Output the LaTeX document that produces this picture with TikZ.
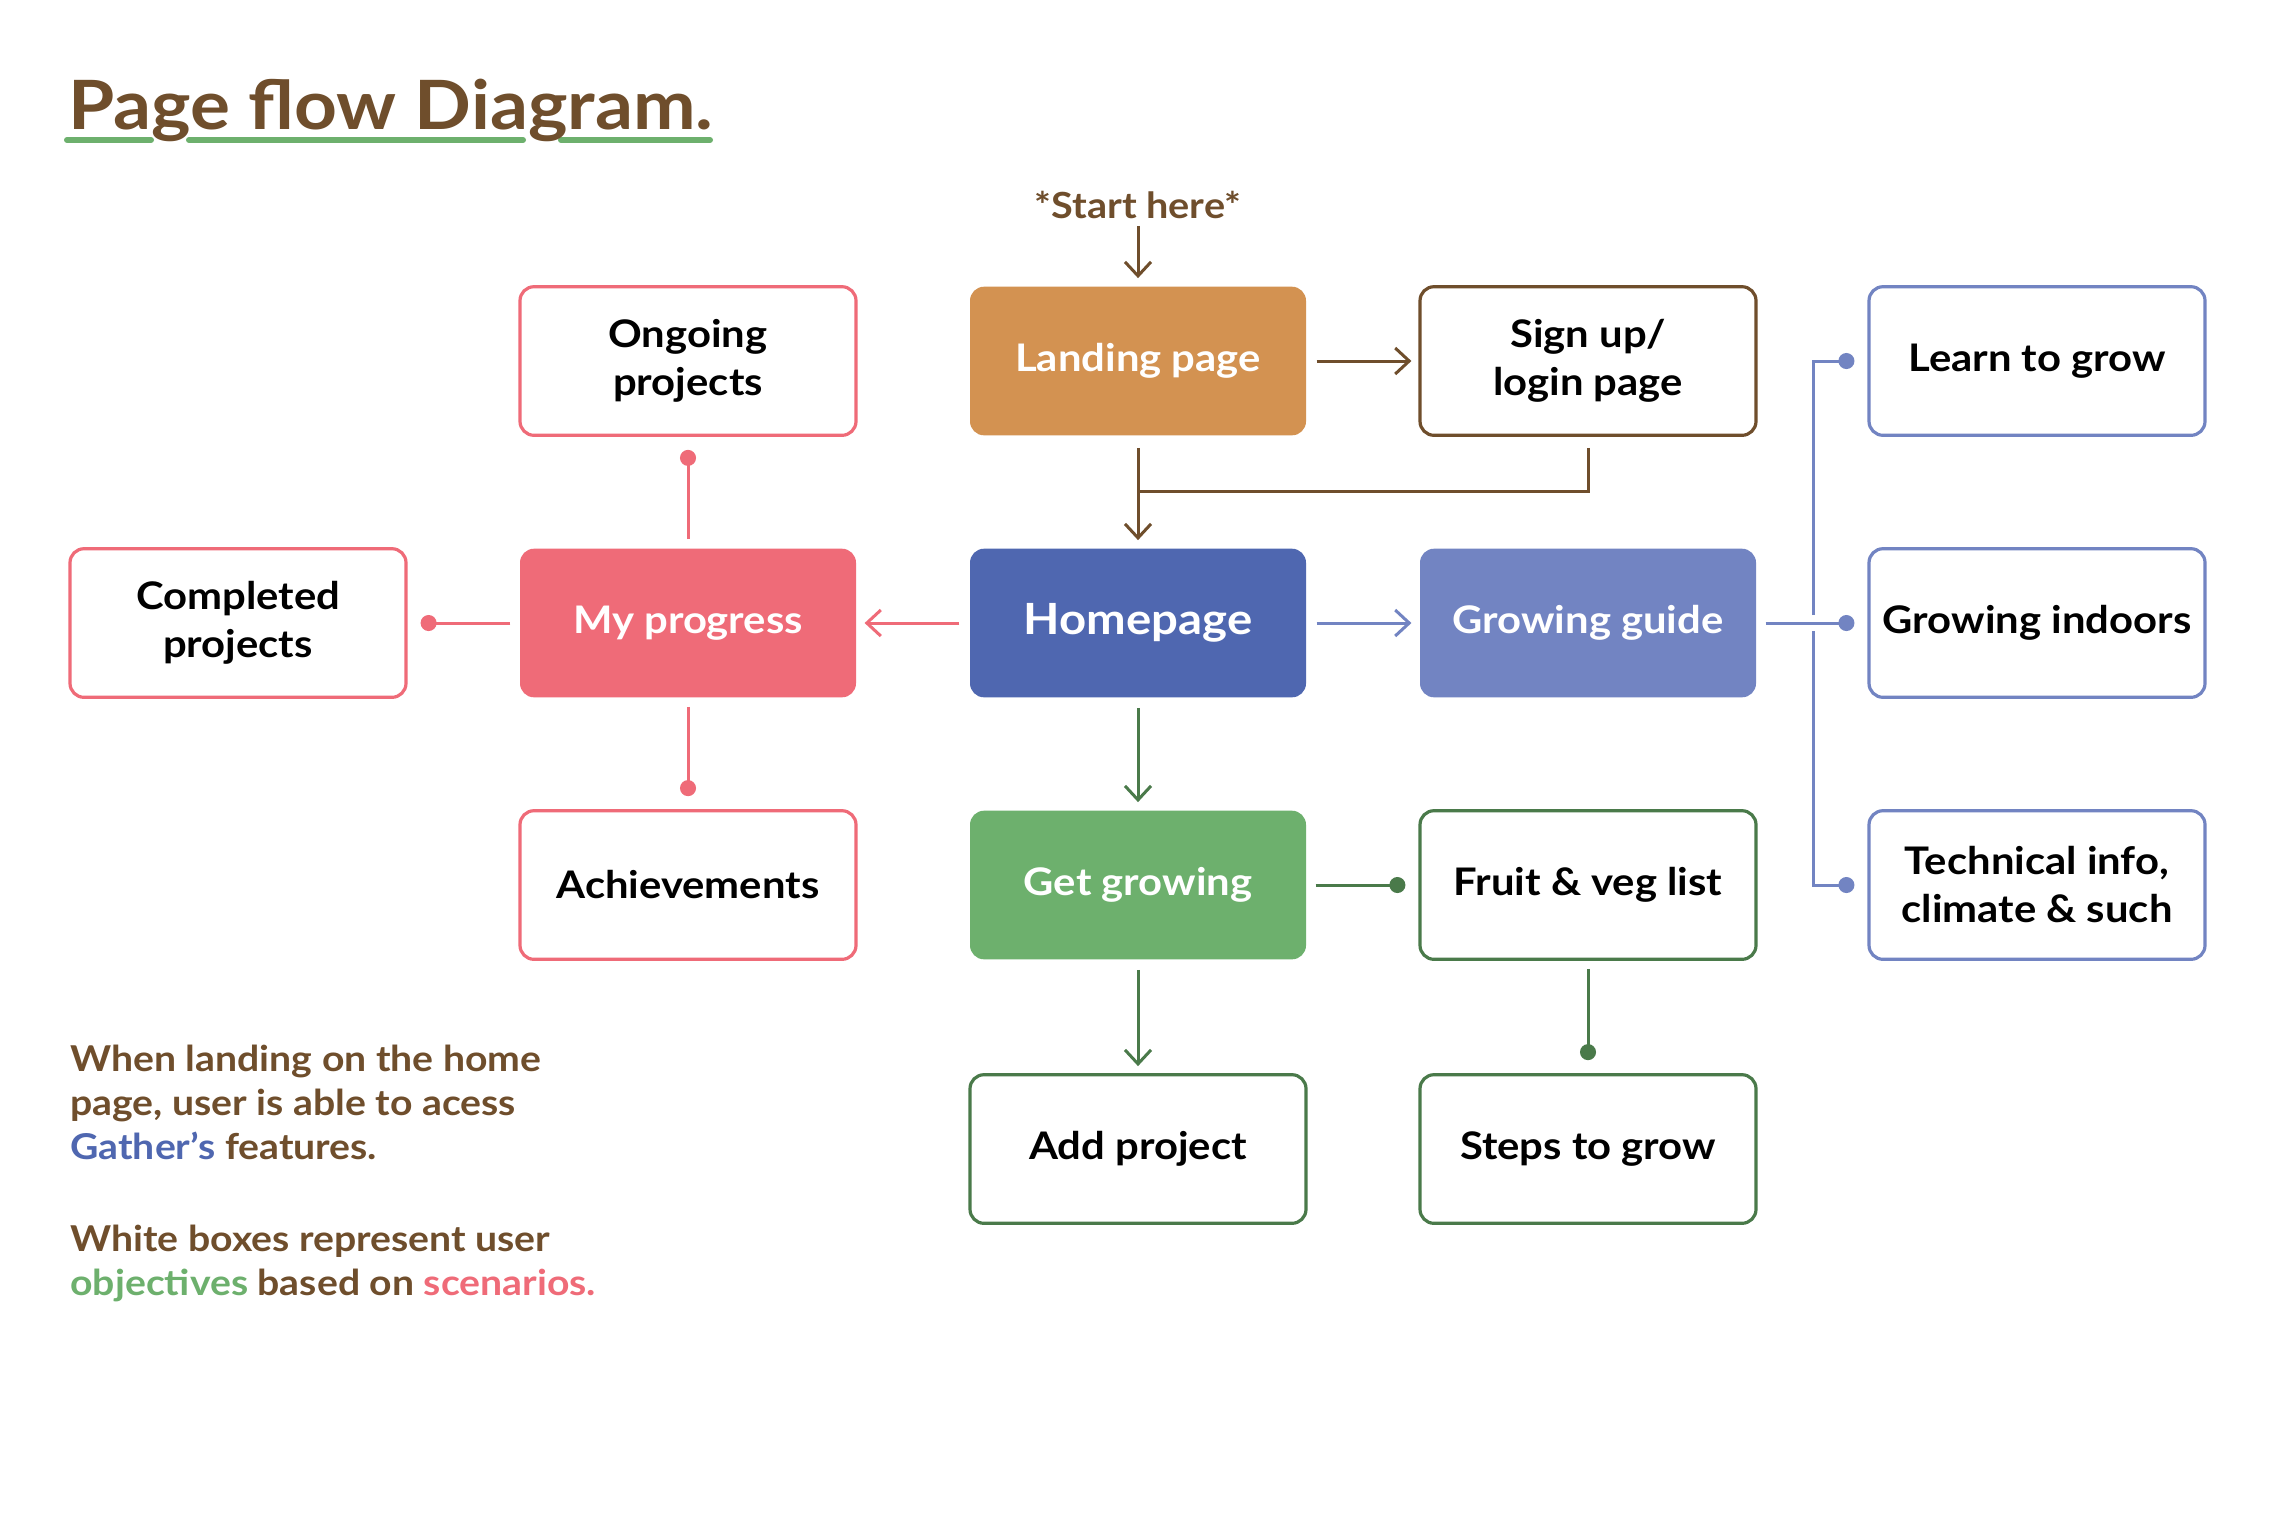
\documentclass[tikz,border=0pt]{standalone}
\usepackage{fontspec}
\setmainfont{Lato}[FakeStretch=1.1]
\usetikzlibrary{arrows.meta}
\definecolor{brn}{HTML}{6F4E2C}
\definecolor{org}{HTML}{D39251}
\definecolor{pnk}{HTML}{EF6B78}
\definecolor{hblu}{HTML}{4F67B0}
\definecolor{lblu}{HTML}{7284C2}
\definecolor{grf}{HTML}{6DB06D}
\definecolor{grd}{HTML}{4A7A4A}
\begin{document}
\begin{tikzpicture}[x=0.5pt,y=-0.5pt,
  box/.style={rounded corners=7pt, minimum width=168pt, minimum height=74.3pt, line width=1.6pt, align=center, font=\fontsize{19}{24}\selectfont\bfseries, inner sep=0pt, text=black},
  outl/.style={box, draw=#1, fill=white},
  fil/.style={box, fill=#1, text=white},
  arr/.style={draw=#1, line width=1.5pt, -{Straight Barb[length=7pt,width=13pt]}, shorten >=3.5pt, shorten <=4.5pt},
  dotc/.style={draw=#1, line width=1.5pt, -{Circle[length=8pt]}, shorten >=6.5pt, shorten <=4pt},
  desc/.style={anchor=base west, inner sep=0pt, text=brn, font=\fontsize{17.8}{22}\selectfont\bfseries}
]
\fill[white] (0,0) rectangle (2284,1523);
\useasboundingbox (0,0) rectangle (2284,1523);

% title
\draw[grf, line width=3pt, line cap=round] (67,140) -- (151,140);
\draw[grf, line width=3pt, line cap=round] (189,140) -- (523,140);
\draw[grf, line width=3pt, line cap=round] (561,140) -- (710,140);
\node[anchor=base west, inner sep=0pt, text=brn, font=\fontsize{34}{40}\selectfont\bfseries] (title) at (68,129) {Page flow Diagram.};

% boxes
\node[outl=pnk] (ongo) at (688,361) {Ongoing\\projects};
\node[fil=org] (land) at (1138,361) {Landing page};
\node[outl=brn] (sign) at (1588,361) {Sign up/\\login page};
\node[outl=lblu] (learn) at (2037,361) {Learn to grow};
\node[outl=pnk] (comp) at (238,623) {Completed\\projects};
\node[fil=pnk] (prog) at (688,623) {My progress};
\node[fil=hblu, font=\fontsize{21.5}{26}\selectfont\bfseries] (home) at (1138,623) {Homepage};
\node[fil=lblu] (guide) at (1588,623) {Growing guide};
\node[outl=lblu] (indoor) at (2037,623) {Growing indoors};
\node[outl=pnk] (ach) at (688,885) {Achievements};
\node[fil=grf] (get) at (1138,885) {Get growing};
\node[outl=grd] (fruit) at (1588,885) {Fruit \& veg list};
\node[outl=lblu] (tech) at (2037,885) {Technical info,\\climate \& such};
\node[outl=grd] (add) at (1138,1149) {Add project};
\node[outl=grd] (steps) at (1588,1149) {Steps to grow};

\node[text=brn, font=\fontsize{18}{22}\selectfont\bfseries] (start) at (1138,205) {*Start here*};

% connectors
\draw[arr=brn, shorten <=0pt] (start) -- (land);
\draw[arr=brn] (land) -- (sign);
\draw[arr=brn, shorten <=5.5pt] (land) -- (home);
\coordinate (j) at (1138,491);
\draw[brn, line width=1.5pt, shorten <=5.5pt] (sign.south) |- (j);
\draw[arr=pnk] (home) -- (prog);
\draw[arr=lblu] (home) -- (guide);
\draw[arr=grd] (home) -- (get);
\draw[arr=grd] (get) -- (add);
\draw[dotc=pnk] (prog) -- (ongo);
\draw[dotc=pnk] (prog) -- (comp);
\draw[dotc=pnk] (prog) -- (ach);
\draw[dotc=grd] (get) -- (fruit);
\draw[dotc=grd] (fruit) -- (steps);
\draw[dotc=lblu] (guide) -- (indoor);
\draw[dotc=lblu] (guide.east) ++(28pt,0) |- (learn.west);
\draw[dotc=lblu] (guide.east) ++(28pt,0) |- (tech.west);

% description
\node[desc] (d1) at (70,1071) {When landing on the home};
\node[desc] (d2) at (70,1115) {page, user is able to acess};
\node[desc] (d3) at (70,1159) {\textcolor{hblu}{Gather’s} features.};
\node[desc] (d4) at (70,1251) {White boxes represent user};
\node[desc] (d5) at (70,1295) {\textcolor{grf}{objectives} based on \textcolor{pnk}{scenarios.}};
\end{tikzpicture}
\end{document}
